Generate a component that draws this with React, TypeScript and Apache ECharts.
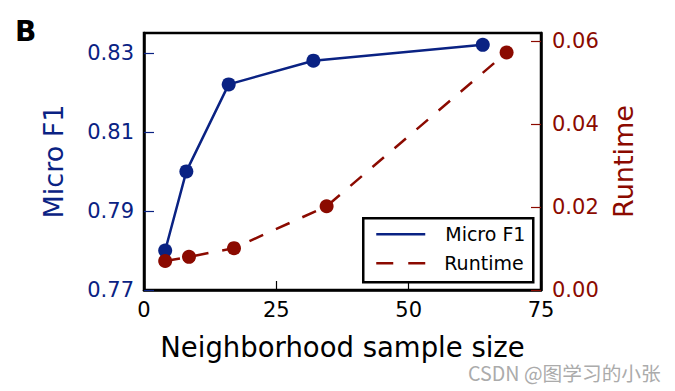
import React, { useEffect, useRef } from "react";
import * as echarts from "echarts";

const microX = [4, 8, 16, 32, 64];
const microF1 = [0.78, 0.8, 0.822, 0.828, 0.832];
const runtimeX = [4, 8.5, 17, 34.5, 68.5];
const runtime = [0.007, 0.008, 0.0101, 0.0202, 0.0573];
const leftTicks = [0.77, 0.79, 0.81, 0.83];
const rightTicks = [0, 0.02, 0.04, 0.06];
const xTicks = [0, 25, 50, 75];

const BLUE = "#0a2283";
const RED = "#8b0a00";
const FONT = "DejaVu Sans";

export default function App() {
  const ref = useRef<HTMLDivElement>(null);
  useEffect(() => {
    if (!ref.current) return;
    const chart = echarts.init(ref.current, null, { renderer: "svg" });
    chart.setOption({
      animation: false,
      backgroundColor: "#fff",
      grid: {
        left: 144,
        right: 134,
        top: 33,
        bottom: 101,
        show: true,
        borderColor: "#000",
        borderWidth: 2.5,
        backgroundColor: "transparent",
      },
      xAxis: {
        type: "value",
        min: 0,
        max: 75,
        interval: 25,
        name: "Neighborhood sample size",
        nameLocation: "middle",
        nameGap: 43,
        nameTextStyle: { fontFamily: FONT, fontSize: 27.5, color: "#000" },
        axisLine: { lineStyle: { color: "#000", width: 2.5 } },
        axisTick: { inside: true, length: 9, lineStyle: { color: "#000", width: 1.2 }, customValues: xTicks },
        axisLabel: { fontFamily: FONT, fontSize: 21, color: "#000", margin: 9, customValues: xTicks },
        splitLine: { show: false },
      },
      yAxis: [
        {
          type: "value",
          min: 0.77,
          max: 0.835,
          position: "left",
          name: "Micro F1",
          nameLocation: "middle",
          nameRotate: 90,
          nameGap: 77,
          nameTextStyle: { fontFamily: FONT, fontSize: 27, color: BLUE },
          axisLine: { show: true, lineStyle: { color: "#000", width: 2.5 } },
          axisTick: { show: true, inside: true, length: 10, lineStyle: { color: BLUE, width: 1.2 }, customValues: leftTicks },
          axisLabel: {
            fontFamily: FONT,
            fontSize: 21,
            color: BLUE,
            margin: 10,
            customValues: leftTicks,
            formatter: (v: number) => v.toFixed(2),
          },
          splitLine: { show: false },
        },
        {
          type: "value",
          min: 0,
          max: 0.062,
          position: "right",
          name: "Runtime",
          nameLocation: "middle",
          nameRotate: 90,
          nameGap: 69,
          nameTextStyle: { fontFamily: FONT, fontSize: 27, color: RED },
          axisLine: { show: true, lineStyle: { color: "#000", width: 2.5 } },
          axisTick: { show: true, inside: true, length: 10, lineStyle: { color: RED, width: 1.2 }, customValues: rightTicks },
          axisLabel: {
            fontFamily: FONT,
            fontSize: 21,
            color: RED,
            margin: 11,
            customValues: rightTicks,
            formatter: (v: number) => v.toFixed(2),
          },
          splitLine: { show: false },
        },
      ],
      series: [
        {
          name: "Micro F1",
          type: "line",
          yAxisIndex: 0,
          data: microX.map((x, i) => [x, microF1[i]]),
          symbol: "circle",
          symbolSize: 14,
          lineStyle: { color: BLUE, width: 2.5 },
          itemStyle: { color: BLUE },
        },
        {
          name: "Runtime",
          type: "line",
          yAxisIndex: 1,
          data: runtimeX.map((x, i) => [x, runtime[i]]),
          symbol: "circle",
          symbolSize: 14,
          lineStyle: { color: RED, width: 2.5, type: [15, 14] },
          itemStyle: { color: RED },
        },
      ],
      graphic: [
        {
          type: "text",
          left: 15,
          top: 17,
          style: { text: "B", fontFamily: FONT, fontWeight: "bold", fontSize: 28, fill: "#000" },
        },
        {
          type: "group",
          left: 362,
          top: 217,
          z: 100,
          children: [
            {
              type: "rect",
              shape: { x: 0, y: 0, width: 170, height: 64 },
              style: { fill: "#fff", stroke: "#000", lineWidth: 2.5 },
            },
            {
              type: "line",
              shape: { x1: 13, y1: 16, x2: 62, y2: 16 },
              style: { stroke: BLUE, lineWidth: 2.5 },
            },
            {
              type: "line",
              shape: { x1: 13, y1: 45, x2: 62, y2: 45 },
              style: { stroke: RED, lineWidth: 2.5, lineDash: [17, 15] },
            },
            {
              type: "text",
              x: 82,
              y: 16,
              style: { text: "Micro F1", fontFamily: FONT, fontSize: 19, fill: "#000", verticalAlign: "middle" },
            },
            {
              type: "text",
              x: 81,
              y: 45,
              style: { text: "Runtime", fontFamily: FONT, fontSize: 19, fill: "#000", verticalAlign: "middle" },
            },
          ],
        },
        {
          type: "text",
          x: 468,
          y: 372,
          style: {
            text: "CSDN @图学习的小张",
            fontFamily: "Noto Sans CJK SC",
            fontSize: 19.7,
            fill: "#ababab",
            verticalAlign: "middle",
          },
        },
      ],
    });
    return () => chart.dispose();
  }, []);
  return (
    <div
      ref={ref}
      style={{ position: "absolute", left: 0, top: 0, width: 675, height: 391 }}
    />
  );
}
